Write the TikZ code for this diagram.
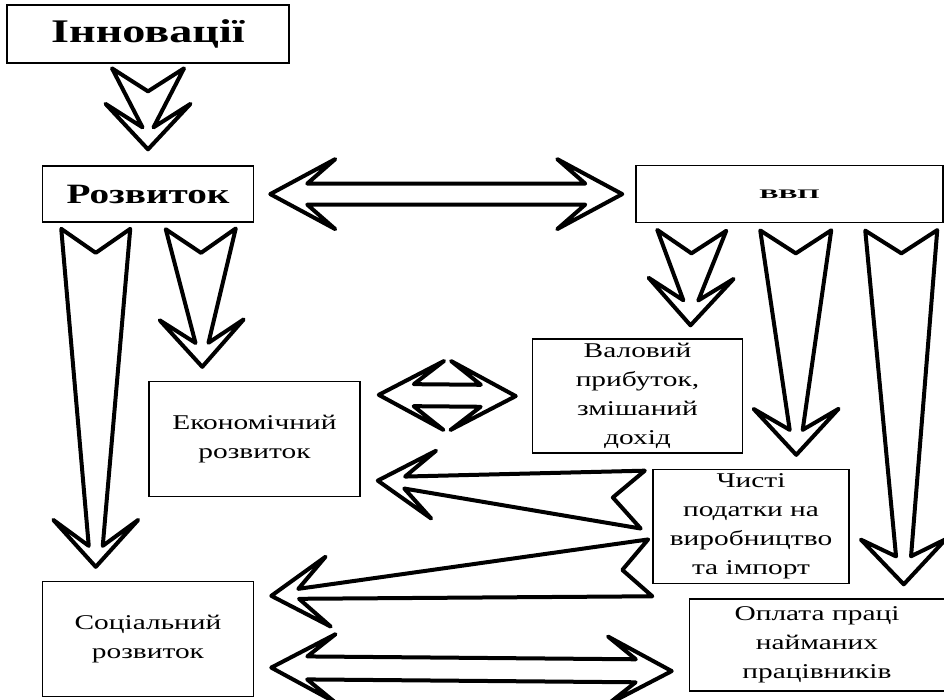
\documentclass[tikz,border=0pt]{standalone}
\usepackage{fontspec}
\setmainfont{Liberation Serif}
\newfontfamily\boxfont[FakeStretch=1.4]{Liberation Serif}
\newfontfamily\vvpfont[FakeStretch=2.2]{Liberation Serif}
\usetikzlibrary{positioning,calc}

\tikzset{
  box/.style={draw, line width=1.5pt, inner sep=0pt, align=center,
    font=\boxfont\fontsize{21}{29}\selectfont},
  headbox/.style={box, font=\boxfont\bfseries\fontsize{28}{32}\selectfont},
  fatline/.style={line width=4pt, line join=round, line cap=round, fill=white},
  fa tail/.store in=\faTail, fa notch/.store in=\faNotch,
  fa shaft/.store in=\faShaft, fa neck/.store in=\faNeck,
  fa barb/.store in=\faBarb, fa head/.store in=\faHead,
  fa tail=35, fa notch=23, fa shaft=7, fa neck=24, fa barb=42, fa head=46,
  da inner/.store in=\daInner, da back/.store in=\daBack,
  da barb/.store in=\daBarb, da shaft/.store in=\daShaft,
  da inner=36, da back=65, da barb=35, da shaft=10.5,
}

\newcommand{\fameasure}[2]{%
  \path #1 coordinate (fa-a) #2 coordinate (fa-b);
  \pgfpointdiff{\pgfpointanchor{fa-a}{center}}{\pgfpointanchor{fa-b}{center}}%
  \pgfgetlastxy{\faX}{\faY}%
  \pgfmathsetmacro\faLen{veclen(\faX,\faY)}%
  \pgfmathsetmacro\faAngle{atan2(\faY,\faX)}}

\newcommand{\fatarrow}[3][]{%
  \fameasure{#2}{#3}
  \draw[fatline,#1,shift={(fa-a)},rotate=\faAngle]
    (0,\faTail) -- (\faNotch,0) -- (0,-\faTail)
    -- (\faLen-\faNeck,-\faShaft) -- (\faLen-\faHead,-\faBarb) -- (\faLen,0)
    -- (\faLen-\faHead,\faBarb) -- (\faLen-\faNeck,\faShaft) -- cycle;}

\newcommand{\dblarrow}[3][]{%
  \fameasure{#2}{#3}
  \draw[fatline,#1,shift={(fa-a)},rotate=\faAngle]
    (0,0) -- (\daBack,\daBarb) -- (\daInner,\daShaft)
    -- (\faLen-\daInner,\daShaft) -- (\faLen-\daBack,\daBarb) -- (\faLen,0)
    -- (\faLen-\daBack,-\daBarb) -- (\faLen-\daInner,-\daShaft)
    -- (\daInner,-\daShaft) -- (\daBack,-\daBarb) -- cycle;}

\begin{document}
\begin{tikzpicture}[x=1pt, y=-1pt]
  \useasboundingbox (0,0) rectangle (944,699);

  \node[headbox, line width=2.7pt, minimum width=282pt, minimum height=58pt,
    font=\boxfont\bfseries\fontsize{33}{36}\selectfont] (inn) at (148,34) {Інновації};
  \node[headbox, minimum width=211pt, minimum height=56pt, below=101pt of inn] (rozv) {Розвиток};
  \node[box, minimum width=307pt, minimum height=57pt, right=381pt of rozv,
    font=\vvpfont\bfseries\fontsize{13}{15}\selectfont] (vvp) {ВВП};

  \node[box, minimum width=211pt, minimum height=115pt, below right=158pt and -106pt of rozv] (ekon)
    {Економічний\\розвиток};
  \node[box, minimum width=210pt, minimum height=114pt, below left=115pt and -108pt of vvp] (val)
    {Валовий\\прибуток,\\змішаний\\дохід};
  \node[box, minimum width=196pt, minimum height=114pt, below right=15pt and -91pt of val] (chyst)
    {Чисті\\податки на\\виробництво\\та імпорт};
  \node[box, minimum width=255pt, minimum height=92pt, below right=14pt and -161pt of chyst] (opl)
    {Оплата праці\\найманих\\працівників};
  \node[box, minimum width=211pt, minimum height=115pt, below=358pt of rozv] (soc)
    {Соціальний\\розвиток};

  \fatarrow[fa tail=36, fa shaft=5.5, fa neck=22, fa barb=42.5, fa head=45.5]
    {($(inn.south)+(0,4)$)}{($(rozv.north)+(0,-16)$)}
  \fatarrow[fa tail=34.5, fa notch=24, fa neck=21, fa barb=42.5, fa head=47]
    {($(rozv.south west)+(54,6)$)}{($(soc.north west)+(54,-14)$)}
  \fatarrow[fa notch=24, fa shaft=6.5, fa head=47]
    {($(rozv.south west)+(159,6)$)}{($(ekon.north west)+(54,-14)$)}
  \dblarrow[da inner=37]{($(rozv.east)+(16,0)$)}{($(vvp.west)+(-13,0)$)}

  \fatarrow[fa tail=34.5, fa shaft=7.5, fa neck=25, fa barb=42.5, fa head=47]
    {($(vvp.south west)+(56.5,7)$)}{($(val.north)+(53,-13)$)}
  \fatarrow[fa tail=35.5, fa shaft=6.5, fa neck=25, fa barb=42.5]
    {($(vvp.south west)+(160.5,7)$)}{($(chyst.north west)+(144,-14)$)}
  \fatarrow[fa tail=36, fa shaft=7.5, fa neck=28, fa barb=42.5, fa head=45]
    {($(vvp.south west)+(266,7)$)}{($(opl.north west)+(215,-14)$)}

  \dblarrow[da inner=35, da barb=34.5, da shaft=11]{($(ekon.north east)+(18,14)$)}{($(val.west)+(-16,0)$)}
  \fatarrow[fa tail=29, fa notch=30, fa shaft=6, fa neck=27, fa barb=34, fa head=56]
    {($(chyst.west)+(-9.5,-27)$)}{($(ekon.east)+(17,41.5)$)}
  \fatarrow[fa tail=28.5, fa notch=28, fa shaft=5, fa neck=27.5, fa barb=35, fa head=57]
    {($(chyst.south west)+(-2,-16.5)$)}{($(soc.north east)+(17,15)$)}
  \dblarrow[da barb=34, da back=64, da shaft=11.5]{($(soc.east)+(17,28.5)$)}{($(opl.west)+(-17,26)$)}
\end{tikzpicture}
\end{document}
